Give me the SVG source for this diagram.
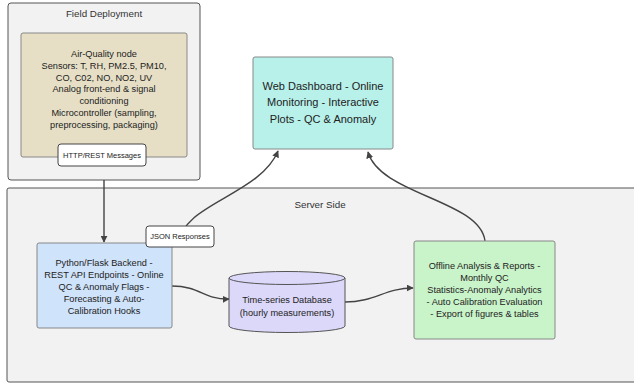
<svg xmlns="http://www.w3.org/2000/svg" width="634" height="383" viewBox="0 0 634 383">
<defs>
<marker id="arr" viewBox="0 0 10 10" refX="9" refY="5" markerWidth="7" markerHeight="7" orient="auto-start-reverse" markerUnits="userSpaceOnUse">
<path d="M0,0 L10,5 L0,10 z" fill="#444"/>
</marker>
<style>
text{font-family:"Liberation Sans",Arial,sans-serif;fill:#222;text-anchor:middle}
.cl{fill:#f2f2f3;stroke:#555;stroke-width:1}
.ct{font-size:9.8px;fill:#333}
.nd{stroke:#888;stroke-width:1}
.t{font-size:9.2px}
.tw{font-size:11px}
.lb{fill:#fff;stroke:#444;stroke-width:1}
.lt{font-size:7.5px}
.e{fill:none;stroke:#444;stroke-width:1.4;marker-end:url(#arr)}
</style>
</defs>
<rect width="634" height="383" fill="#fff"/>
<g id="cluster-field">
<rect class="cl" x="8" y="3" width="192" height="177" rx="3"/>
<text class="ct" x="104" y="17">Field Deployment</text>
</g>
<g id="cluster-server">
<rect class="cl" x="7" y="188" width="640" height="194" rx="2"/>
<text class="ct" x="320" y="208">Server Side</text>
</g>
<g id="edges">
<path class="e" d="M104,180 L104,242"/>
<path class="e" d="M180,243 C180,205 260,195 278,151"/>
<path class="e" d="M485,241 C480,200 380,195 368,152"/>
<path class="e" d="M172,286 C200,286 205,300 229,299"/>
<path class="e" d="M345,302 C375,302 385,288 413,288"/>
</g>
<g id="node-airq">
<rect class="nd" x="21" y="33" width="166" height="124" rx="2" fill="#e6dfc6" stroke="#777"/>
<text class="t" x="104" y="57">Air-Quality node</text>
<text class="t" x="104" y="69">Sensors: T, RH, PM2.5, PM10,</text>
<text class="t" x="104" y="81">CO, C02, NO, NO2, UV</text>
<text class="t" x="104" y="92">Analog front-end &amp; signal</text>
<text class="t" x="104" y="104">conditioning</text>
<text class="t" x="104" y="116">Microcontroller (sampling,</text>
<text class="t" x="104" y="128">preprocessing, packaging)</text>
</g>
<g id="label-http">
<rect class="lb" x="58" y="144" width="88" height="22" rx="3"/>
<text class="lt" x="102" y="158">HTTP/REST Messages</text>
</g>
<g id="node-web">
<rect class="nd" x="253" y="57" width="140" height="92" rx="2" fill="#b7f1ea" stroke="#666"/>
<text class="tw" x="323" y="90">Web Dashboard - Online</text>
<text class="tw" x="323" y="106">Monitoring - Interactive</text>
<text class="tw" x="323" y="123">Plots - QC &amp; Anomaly</text>
</g>
<g id="node-backend">
<rect class="nd" x="37" y="243" width="135" height="85" rx="2" fill="#cfe3fb" stroke="#8aa"/>
<text class="t" x="104" y="266">Python/Flask Backend -</text>
<text class="t" x="104" y="278">REST API Endpoints - Online</text>
<text class="t" x="104" y="290">QC &amp; Anomaly Flags -</text>
<text class="t" x="104" y="302">Forecasting &amp; Auto-</text>
<text class="t" x="104" y="314">Calibration Hooks</text>
</g>
<g id="label-json">
<rect class="lb" x="146" y="226" width="68" height="21" rx="3"/>
<text class="lt" x="180" y="239">JSON Responses</text>
</g>
<g id="node-db">
<path d="M229,278 L229,326 A58,6.5 0 0 0 345,326 L345,278 A58,6.5 0 0 0 229,278 z" fill="#dcd8fa" stroke="#555"/>
<path d="M229,278 A58,6.5 0 0 0 345,278" fill="none" stroke="#555"/>
<text class="t" x="287" y="303">Time-series Database</text>
<text class="t" x="287" y="316">(hourly measurements)</text>
</g>
<g id="node-offline">
<rect class="nd" x="414" y="241" width="141" height="98" rx="2" fill="#c9f3c9" stroke="#8a8"/>
<text class="t" x="484.5" y="269">Offline Analysis &amp; Reports -</text>
<text class="t" x="484.5" y="281">Monthly QC</text>
<text class="t" x="484.5" y="293">Statistics-Anomaly Analytics</text>
<text class="t" x="484.5" y="305">- Auto Calibration Evaluation</text>
<text class="t" x="484.5" y="317">- Export of figures &amp; tables</text>
</g>
</svg>
